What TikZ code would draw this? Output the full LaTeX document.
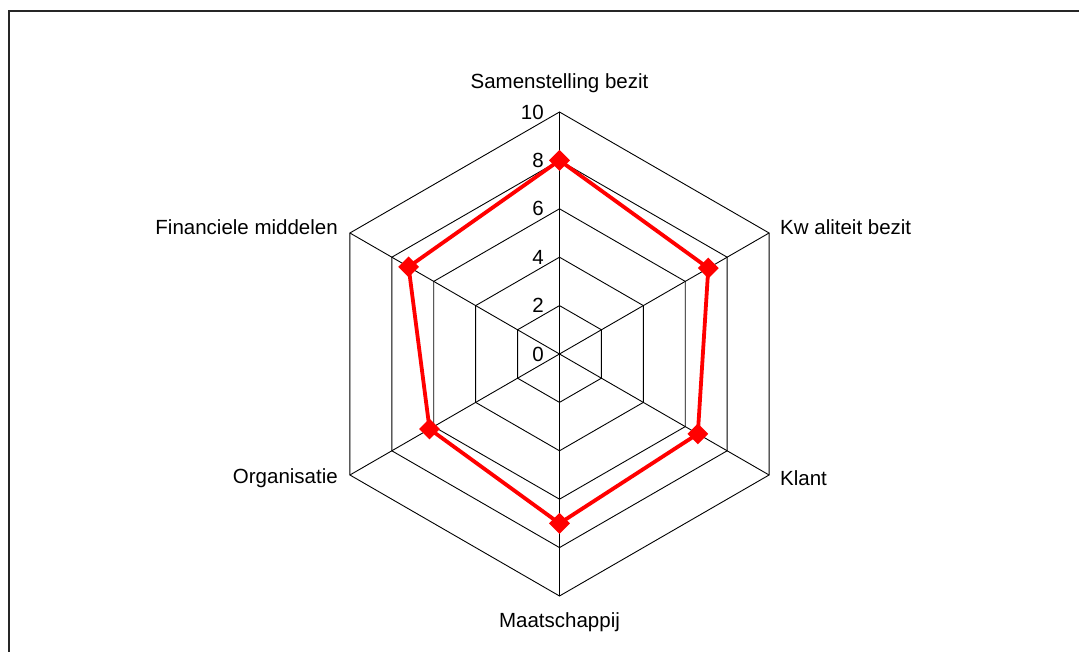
\documentclass[tikz,border=0pt]{standalone}
\usepackage{fontspec}
\setmainfont{Liberation Sans}
\usetikzlibrary{shapes.geometric}

\begin{document}
\begin{tikzpicture}[x=1pt,y=1pt,
    grid/.style={draw=black,line width=0.9pt},
    lbl/.style={inner sep=0pt,font=\fontsize{20.5}{24}\selectfont},
    score/.style={draw=red,line width=3.8pt},
    ruit/.style={diamond,fill=red,inner sep=0pt,minimum size=21pt}]
    \useasboundingbox (-559.5,-298) rectangle (519.5,354);
    \draw[line width=2pt,draw=black!85] (-550,-298) -- (-550,342.5) -- (519.5,342.5);
    % raster
    \foreach \r in {2,4,...,10}
        \draw[grid] (90:24.2*\r) -- (30:24.2*\r) -- (-30:24.2*\r) -- (-90:24.2*\r) -- (210:24.2*\r) -- (150:24.2*\r) -- cycle;
    \foreach \a in {90,30,-30,-90,210,150}
        \draw[grid] (0,0) -- (\a:242);
    \foreach \v in {0,2,...,10}
        \node[lbl,anchor=east] (t\v) at (-15.5,24.2*\v) {\v};
    % assen
    \node[lbl] (sb-lbl) at (0,271) {Samenstelling bezit};
    \node[lbl,anchor=west] (kb-lbl) at (220.5,127) {Kw aliteit bezit};
    \node[lbl,anchor=west] (kl-lbl) at (220.5,-124) {Klant};
    \node[lbl] (ma-lbl) at (0,-268) {Maatschappij};
    \node[lbl,anchor=east] (or-lbl) at (-221.5,-124) {Organisatie};
    \node[lbl,anchor=east] (fm-lbl) at (-221.5,127) {Financiele middelen};
    % scores
    \foreach \a/\v/\n in {90/8/sb,30/7.1/kb,-30/6.6/kl,-90/7.0/ma,210/6.2/or,150/7.2/fm}
        \coordinate (\n) at (\a:24.2*\v);
    \draw[score] (sb) -- (kb) -- (kl) -- (ma) -- (or) -- (fm) -- cycle;
    \foreach \n in {sb,kb,kl,ma,or,fm}
        \node[ruit] (\n-m) at (\n) {};
\end{tikzpicture}
\end{document}
